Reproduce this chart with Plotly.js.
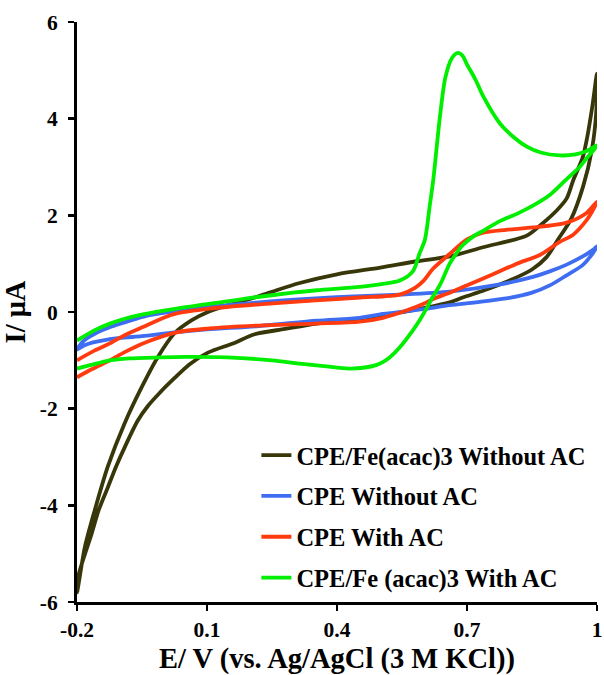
<!DOCTYPE html>
<html>
<head>
<meta charset="utf-8">
<script src="https://cdn.plot.ly/plotly-3.0.1.min.js"></script>
<style>html,body{margin:0;padding:0;background:#fff;}#chart{width:604px;height:675px;}</style>
</head>
<body>
<div id="chart"></div>
<script>
// Series names
const names = ["CPE/Fe(acac)3 Without AC", "CPE Without AC", "CPE With AC", "CPE/Fe (acac)3 With AC"];

// CPE/Fe(acac)3 Without AC (forward then reverse scan)
const feNoAcE = [-0.2, -0.182, -0.159, -0.129, -0.09, -0.051, -0.014, 0.025, 0.065, 0.102, 0.148, 0.203, 0.25, 0.314, 0.4, 0.5, 0.584, 0.66, 0.737, 0.838, 0.87, 0.907, 0.93, 0.945, 0.967, 0.976, 0.99, 1.0,
  0.998, 0.988, 0.968, 0.94, 0.91, 0.883, 0.85, 0.79, 0.74, 0.69, 0.66, 0.6, 0.506, 0.43, 0.353, 0.28, 0.21, 0.16, 0.102, 0.06, 0.026, -0.01, -0.036, -0.06, -0.09, -0.11, -0.129, -0.15, -0.166, -0.185, -0.198, -0.2];
const feNoAcI = [-5.8, -4.87, -4.1, -3.2, -2.3, -1.56, -0.94, -0.44, -0.17, 0.0, 0.14, 0.28, 0.42, 0.6, 0.78, 0.92, 1.05, 1.15, 1.34, 1.58, 1.8, 2.1, 2.35, 2.72, 3.2, 3.55, 4.3, 4.93,
  4.1, 3.35, 2.6, 1.92, 1.5, 1.13, 0.88, 0.62, 0.45, 0.3, 0.2, 0.08, -0.07, -0.16, -0.24, -0.35, -0.46, -0.65, -0.84, -1.08, -1.36, -1.68, -1.94, -2.25, -2.8, -3.2, -3.63, -4.1, -4.58, -5.1, -5.5, -5.8];

// CPE Without AC
const cpeNoAcE = [-0.2, -0.185, -0.159, -0.12, -0.085, -0.04, 0.014, 0.1, 0.22, 0.35, 0.453, 0.545, 0.66, 0.776, 0.85, 0.891, 0.93, 0.967, 0.99, 1.0,
  0.985, 0.967, 0.93, 0.891, 0.85, 0.79, 0.72, 0.66, 0.6, 0.506, 0.453, 0.353, 0.22, 0.1, 0.025, -0.05, -0.09, -0.13, -0.163, -0.185, -0.2];
const cpeNoAcI = [-0.78, -0.6, -0.45, -0.3, -0.2, -0.08, 0.0, 0.1, 0.2, 0.28, 0.33, 0.36, 0.42, 0.57, 0.72, 0.84, 0.98, 1.15, 1.28, 1.36,
  1.15, 0.97, 0.76, 0.55, 0.4, 0.28, 0.2, 0.14, 0.06, -0.04, -0.12, -0.18, -0.29, -0.36, -0.42, -0.5, -0.53, -0.57, -0.63, -0.7, -0.78];

// CPE With AC
const cpeAcE = [-0.2, -0.16, -0.124, -0.09, -0.048, 0.0, 0.03, 0.106, 0.22, 0.35, 0.453, 0.545, 0.58, 0.6, 0.622, 0.66, 0.699, 0.737, 0.79, 0.852, 0.93, 0.976, 1.0,
  0.99, 0.976, 0.945, 0.914, 0.868, 0.815, 0.76, 0.699, 0.66, 0.622, 0.6, 0.56, 0.506, 0.453, 0.35, 0.22, 0.106, 0.03, -0.048, -0.09, -0.124, -0.165, -0.2];
const cpeAcI = [-1.0, -0.8, -0.65, -0.48, -0.31, -0.12, -0.03, 0.07, 0.16, 0.24, 0.3, 0.36, 0.5, 0.65, 0.9, 1.2, 1.5, 1.64, 1.7, 1.75, 1.85, 2.05, 2.28,
  2.1, 1.9, 1.6, 1.45, 1.18, 1.0, 0.78, 0.55, 0.4, 0.27, 0.17, 0.03, -0.12, -0.2, -0.24, -0.28, -0.34, -0.42, -0.65, -0.83, -1.0, -1.18, -1.35];

// CPE/Fe (acac)3 With AC
const feAcE = [-0.2, -0.16, -0.124, -0.09, -0.048, 0.03, 0.146, 0.2, 0.298, 0.353, 0.453, 0.506, 0.545, 0.575, 0.59, 0.603, 0.614, 0.622, 0.637, 0.65, 0.665, 0.679, 0.69, 0.699, 0.72, 0.737, 0.776, 0.81, 0.838, 0.87, 0.914, 0.95, 0.976, 1.0,
  0.976, 0.96, 0.93, 0.891, 0.852, 0.815, 0.776, 0.737, 0.714, 0.69, 0.676, 0.66, 0.645, 0.637, 0.62, 0.607, 0.59, 0.575, 0.545, 0.52, 0.49, 0.43, 0.37, 0.314, 0.25, 0.146, 0.05, -0.009, -0.08, -0.124, -0.17, -0.2];
const feAcI = [-0.59, -0.38, -0.24, -0.14, -0.05, 0.07, 0.22, 0.29, 0.4, 0.45, 0.52, 0.58, 0.65, 0.84, 1.2, 1.5, 2.2, 2.72, 4.0, 4.85, 5.25, 5.36, 5.3, 5.14, 4.8, 4.47, 3.9, 3.6, 3.42, 3.3, 3.24, 3.26, 3.33, 3.45,
  3.18, 3.0, 2.75, 2.42, 2.2, 2.03, 1.88, 1.68, 1.56, 1.38, 1.22, 1.0, 0.7, 0.55, 0.3, 0.08, -0.18, -0.38, -0.73, -0.95, -1.1, -1.17, -1.12, -1.07, -1.0, -0.94, -0.93, -0.94, -0.96, -1.0, -1.1, -1.17];

const xTickVals = [-0.2, 0.1, 0.4, 0.7, 1];
const xTickText = ["-0.2", "0.1", "0.4", "0.7", "1"];
const yTickVals = [-6, -4, -2, 0, 2, 4, 6];
const yTickText = ["-6", "-4", "-2", "0", "2", "4", "6"];

const colors = ["#38370a", "#3f6df2", "#ff3b0f", "#00ee00"];
const xs = [feNoAcE, cpeNoAcE, cpeAcE, feAcE];
const ys = [feNoAcI, cpeNoAcI, cpeAcI, feAcI];

const traces = names.map((n, i) => ({
  x: xs[i], y: ys[i], name: n, mode: "lines", type: "scatter",
  legendgroup: "g" + i,
  line: {color: colors[i], width: 3.8, shape: "spline", smoothing: 0.8}
}));

const serif = "Liberation Serif, Times New Roman, serif";
const layout = {
  width: 604, height: 675,
  margin: {l: 77, r: 7, t: 22, b: 73},
  paper_bgcolor: "#fff", plot_bgcolor: "#fff",
  font: {family: serif, color: "#000", size: 21, weight: "bold"},
  showlegend: true,
  legend: {x: 0.345, y: 0.292, xanchor: "left", yanchor: "top", bgcolor: "rgba(0,0,0,0)",
    font: {family: serif, size: 24.5, weight: "bold", color: "#000"}, tracegroupgap: 6},
  xaxis: {range: [-0.2, 1], tickvals: xTickVals, ticktext: xTickText, showgrid: false, zeroline: false,
    showline: true, linecolor: "#000", linewidth: 3, ticks: "outside", ticklen: 6, tickwidth: 2.5, tickcolor: "#000",
    tickfont: {family: serif, size: 21.5, weight: "bold"},
    title: {text: "E/ V (vs. Ag/AgCl (3 M KCl))", font: {family: serif, size: 28.5, weight: "bold"}, standoff: 10}},
  yaxis: {range: [-6, 6], tickvals: yTickVals, ticktext: yTickText, showgrid: false, zeroline: false,
    showline: true, linecolor: "#000", linewidth: 3, ticks: "outside", ticklen: 6, tickwidth: 2.5, tickcolor: "#000",
    tickfont: {family: serif, size: 21.5, weight: "bold"}, ticklabelstandoff: 6,
    title: {text: "I/ μA", font: {family: serif, size: 28.5, weight: "bold"}, standoff: 8}}
};

Plotly.newPlot("chart", traces, layout, {displayModeBar: false, staticPlot: true});
</script>
</body>
</html>
